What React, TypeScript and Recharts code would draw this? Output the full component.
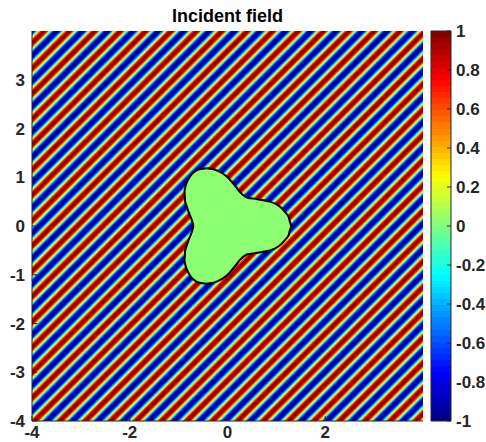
import React from 'react';
import { ComposedChart, XAxis, YAxis, Area, ReferenceArea } from 'recharts';

const xTicks = [-4, -2, 0, 2];
const yTicks = [-4, -3, -2, -1, 0, 1, 2, 3];
const cbTicks = [-1, -0.8, -0.6, -0.4, -0.2, 0, 0.2, 0.4, 0.6, 0.8, 1];

// plane wave: stripe spacing along x and along y,
// and the x where a red crest meets the top edge
const wavePeriodX = 0.52;
const wavePeriodY = 0.52;
const crestAtTop = -3.75;

// scatterer outline as horizontal slices (y, left edge, right edge)
const shapeY = [-1.185, -1.17, -1.13, -1, -0.9, -0.8, -0.7, -0.6, -0.58, -0.55, -0.52, -0.5, -0.4, -0.3, -0.2, -0.1, 0,
  0.1, 0.2, 0.3, 0.4, 0.5, 0.52, 0.55, 0.58, 0.6, 0.7, 0.8, 0.9, 1, 1.13, 1.17, 1.185];
const shapeLeft = [-0.43, -0.545, -0.65, -0.775, -0.83, -0.862, -0.879, -0.872, -0.87, -0.87, -0.867, -0.866, -0.834, -0.8, -0.76, -0.723, -0.7,
  -0.723, -0.76, -0.8, -0.834, -0.866, -0.867, -0.87, -0.87, -0.872, -0.879, -0.862, -0.83, -0.775, -0.65, -0.545, -0.43];
const shapeRight = [-0.43, -0.314, -0.2, 0, 0.09, 0.175, 0.25, 0.37, 0.41, 0.61, 0.78, 0.866, 1.067, 1.166, 1.246, 1.273, 1.3,
  1.273, 1.246, 1.166, 1.067, 0.866, 0.78, 0.61, 0.41, 0.37, 0.25, 0.175, 0.09, 0, -0.2, -0.314, -0.43];

const shapeData = shapeY.map((y, i) => ({ y, range: [shapeLeft[i], shapeRight[i]] }));
const barData = [{ x: 0, v: -1 }, { x: 1, v: 1 }];

// jet colormap
const jetAnchors = [
  [0, 0, 0, 0.5],
  [0.125, 0, 0, 1],
  [0.375, 0, 1, 1],
  [0.625, 1, 1, 0],
  [0.875, 1, 0, 0],
  [1, 0.5, 0, 0],
];

function jet(p: number) {
  const q = Math.max(0, Math.min(1, p));
  let k = 0;
  while (k < jetAnchors.length - 2 && q > jetAnchors[k + 1][0]) k++;
  const a = jetAnchors[k];
  const b = jetAnchors[k + 1];
  const f = (q - a[0]) / (b[0] - a[0]);
  const c = [1, 2, 3].map((j) => Math.round(255 * (a[j] + (b[j] - a[j]) * f)));
  return `rgb(${c[0]},${c[1]},${c[2]})`;
}

const FONT = '"Liberation Sans", Arial, Helvetica, sans-serif';
const INK = '#262626';
const tickStyle = { fill: INK, fontSize: 17, fontWeight: 700, fontFamily: FONT };

function WaveGradient() {
  const n = 48;
  const s = 1 / (8 * (1 / wavePeriodX ** 2 + 1 / wavePeriodY ** 2));
  const x1 = (crestAtTop + 4) / 8;
  const stops = [];
  for (let i = 0; i <= n; i++) {
    const v = Math.cos((2 * Math.PI * i) / n);
    stops.push(<stop key={i} offset={i / n} stopColor={jet((v + 1) / 2)} />);
  }
  return (
    <linearGradient id="wave" x1={x1} y1={0} x2={x1 + s / wavePeriodX} y2={s / wavePeriodY} spreadMethod="repeat">
      {stops}
    </linearGradient>
  );
}

function BarGradient() {
  const stops = [];
  for (let k = 0; k < 64; k++) {
    const c = jet((k + 0.5) / 64);
    stops.push(<stop key={'a' + k} offset={k / 64} stopColor={c} />);
    stops.push(<stop key={'b' + k} offset={(k + 1) / 64} stopColor={c} />);
  }
  return (
    <linearGradient id="jetbar" x1={0} y1={1} x2={0} y2={0}>
      {stops}
    </linearGradient>
  );
}

export default function App() {
  return (
    <div style={{ position: 'absolute', left: 0, top: 0, width: 486, height: 442, background: '#fff' }}>
      <div
        style={{
          position: 'absolute', left: 32, width: 391, top: 7, textAlign: 'center',
          fontFamily: FONT, fontWeight: 700, fontSize: 18, lineHeight: '18px', color: '#000',
        }}
      >
        Incident field
      </div>
      <div style={{ position: 'absolute', left: 0, top: 0 }}>
        <ComposedChart width={486} height={442} layout="vertical" data={shapeData}
          margin={{ top: 31, right: 63, bottom: 0, left: 0 }}>
          <defs>
            <WaveGradient />
          </defs>
          <XAxis xAxisId={0} type="number" domain={[-4, 4]} ticks={xTicks} allowDataOverflow
            height={21} tickSize={-5} tickMargin={10} tick={tickStyle} stroke={INK} />
          <XAxis xAxisId={1} type="number" orientation="top" domain={[-4, 4]} ticks={xTicks} allowDataOverflow
            height={0} tickSize={-5} tick={false} stroke={INK} />
          <YAxis yAxisId={0} type="number" dataKey="y" domain={[-4, 4]} ticks={yTicks} reversed allowDataOverflow
            width={32} tickSize={-5} tickMargin={12} tick={tickStyle} stroke={INK} />
          <YAxis yAxisId={1} type="number" dataKey="y" orientation="right" domain={[-4, 4]} ticks={yTicks} reversed
            allowDataOverflow width={0} tickSize={-5} tick={false} stroke={INK} />
          <ReferenceArea xAxisId={0} yAxisId={0} x1={-4} x2={4} y1={-4} y2={4}
            fill="url(#wave)" fillOpacity={1} stroke="none" />
          <Area xAxisId={0} yAxisId={0} dataKey="range" type="monotone" fill="#8cff73" fillOpacity={1}
            stroke="#000" strokeWidth={2} isAnimationActive={false} dot={false} activeDot={false} />
        </ComposedChart>
      </div>
      <div style={{ position: 'absolute', left: 0, top: 0 }}>
        <ComposedChart width={486} height={442} data={barData} margin={{ top: 31, right: 0, bottom: 21, left: 431 }}>
          <defs>
            <BarGradient />
          </defs>
          <XAxis dataKey="x" type="number" domain={[0, 1]} allowDataOverflow hide />
          <YAxis dataKey="v" type="number" orientation="right" domain={[-1, 1]} ticks={cbTicks} width={35}
            allowDataOverflow tickSize={-4} tickMargin={9} tick={tickStyle} stroke={INK} axisLine={false} />
          <ReferenceArea x1={0} x2={1} y1={-1} y2={1} fill="url(#jetbar)" fillOpacity={1} stroke={INK} strokeWidth={1} />
        </ComposedChart>
      </div>
    </div>
  );
}
